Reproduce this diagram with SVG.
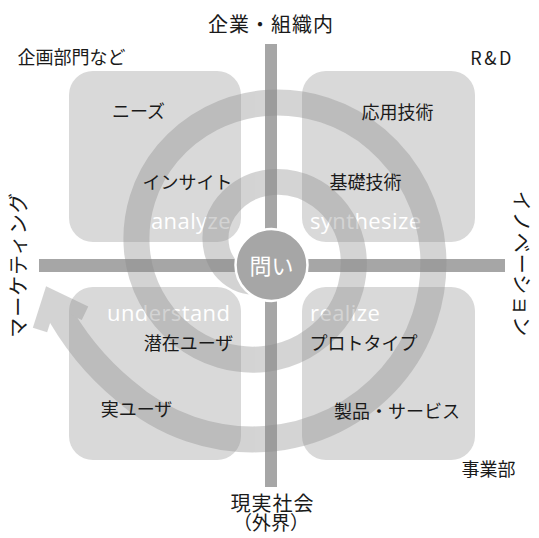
<svg xmlns="http://www.w3.org/2000/svg" width="539" height="538" viewBox="0 0 539 538">
<style>
.jp{font-family:"Noto Sans CJK JP","Noto Sans",sans-serif;fill:#1a1a1a;text-anchor:middle}
.ax{font-size:20px}
.lb{font-size:18px}
.en{font-family:"Open Sans","Liberation Sans",sans-serif;font-size:22px;fill:#fff;letter-spacing:0.4px}
.quad{fill:#d9d9d9}
.bar{fill:#a6a6a6}
.sp{fill:none;stroke:#8b8b8b}
</style>
<rect width="539" height="538" fill="#fff"/>
<g id="quadrants">
  <g id="analyze"><rect class="quad" x="69" y="71" width="172" height="171" rx="24"/><text class="en" x="151" y="229">analyze</text></g>
  <g id="synthesize"><rect class="quad" x="302" y="71" width="173" height="171" rx="24"/><text class="en" x="310" y="229">synthesize</text></g>
  <g id="understand"><rect class="quad" x="69" y="287" width="172" height="173" rx="24"/><text class="en" x="107" y="321">understand</text></g>
  <g id="realize"><rect class="quad" x="302" y="287" width="173" height="173" rx="24"/><text class="en" x="310" y="321">realize</text></g>
</g>
<g id="connectors">
  <rect class="bar" x="265" y="44" width="12" height="443"/>
  <rect class="bar" x="39" y="259" width="466" height="13"/>
  <g opacity="0.37">
    <path class="sp" stroke-width="26" d="M265 279 A33 33 0 0 1 238.1 277.9 A43 43 0 0 1 217 251 A53 53 0 0 1 224 210 A63 63 0 0 1 265 183 A73 73 0 0 1 320.2 195.8 A83 83 0 0 1 353 251 A93 93 0 0 1 334.3 320.3 A103 103 0 0 1 265 359 A113 113 0 0 1 181.6 334.4 A123 123 0 0 1 137 251 A133 133 0 0 1 167.4 153.4 A143 143 0 0 1 265 103 A153 153 0 0 1 376.7 139.3 A163 163 0 0 1 433 251 A173 173 0 0 1 390.9 376.9 A183 183 0 0 1 265 439 A193 193 0 0 1 125 391 A280 280 0 0 1 55 305"/>
    <path class="sp" stroke-width="15" stroke-linejoin="miter" stroke-miterlimit="10" d="M40 330 L50.6 296.8 L85 313.3"/>
  </g>
</g>
<g id="center">
  <circle cx="271.5" cy="265" r="36" fill="#a6a6a6" stroke="#fff" stroke-width="2.5"/>
  <text class="jp" x="271.5" y="273.5" style="font-size:22px;fill:#fff">問い</text>
</g>
<g id="labels">
  <text class="jp ax" x="271" y="32" style="letter-spacing:1px">企業・組織内</text>
  <text class="jp ax" x="272.5" y="511" style="letter-spacing:1px">現実社会</text>
  <text class="jp" x="271" y="530" style="font-size:19px">（外界）</text>
  <text class="jp ax" transform="translate(26 265) rotate(-90)" style="letter-spacing:1px">マーケティング</text>
  <text class="jp ax" transform="translate(514 264) rotate(90)" style="letter-spacing:1px">イノベーション</text>
  <text class="jp lb" x="71.5" y="64">企画部門など</text>
  <text class="jp" x="492" y="65" style="font-size:18px;letter-spacing:2.5px">R&amp;D</text>
  <text class="jp lb" x="488.5" y="476">事業部</text>
  <text class="jp lb" x="138.5" y="118">ニーズ</text>
  <text class="jp lb" x="187.5" y="189">インサイト</text>
  <text class="jp lb" x="397.5" y="119">応用技術</text>
  <text class="jp lb" x="365.5" y="189">基礎技術</text>
  <text class="jp lb" x="188.5" y="350">潜在ユーザ</text>
  <text class="jp lb" x="136.5" y="416">実ユーザ</text>
  <text class="jp lb" x="363.5" y="350">プロトタイプ</text>
  <text class="jp lb" x="397" y="418">製品・サービス</text>
</g>
</svg>
